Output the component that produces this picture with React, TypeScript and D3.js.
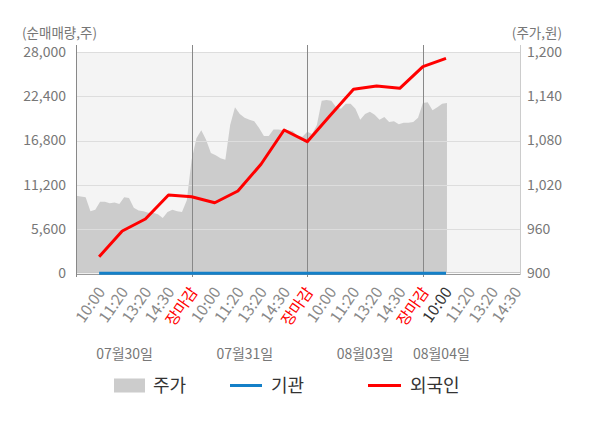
import { useRef, useEffect } from 'react';
import * as d3 from 'd3';

const timeLabels = [
  '10:00', '11:20', '13:20', '14:30', '장마감',
  '10:00', '11:20', '13:20', '14:30', '장마감',
  '10:00', '11:20', '13:20', '14:30', '장마감',
  '10:00', '11:20', '13:20', '14:30',
];
const dayLabels = ['07월30일', '07월31일', '08월03일', '08월04일'];
const dayLabelSlots = [2.1, 7.3, 12.5, 15.8];

const leftTicks = [0, 5600, 11200, 16800, 22400, 28000];
const rightTicks = [900, 960, 1020, 1080, 1140, 1200];

// 외국인 / 기관 net volume per time point
const foreignNet = [2100, 5350, 6870, 9900, 9690, 8930, 10410, 13800, 18130, 16650, 20000, 23280, 23690, 23400, 26140, 27200];
const institutionNet = [0, 0, 0, 0, 0, 0, 0, 0, 0, 0, 0, 0, 0, 0, 0, 0];

// intraday price samples (24 per day)
const priceDay1 = [1005, 1004, 1003, 984, 986, 997, 997, 995, 996, 994, 1003, 1002, 989, 985, 984, 982, 982, 980, 975, 983, 986, 984, 983, 999];
const priceDay2 = [1054, 1083, 1094, 1081, 1063, 1060, 1056, 1054, 1101, 1125, 1116, 1111, 1108, 1106, 1097, 1086, 1086, 1095, 1095, 1094, 1094, 1093, 1086, 1085];
const priceDay3 = [1092, 1089, 1101, 1134, 1135, 1134, 1125, 1123, 1130, 1130, 1123, 1108, 1116, 1119, 1115, 1108, 1112, 1105, 1106, 1102, 1104, 1104, 1105, 1111];
const priceDay4 = [1131, 1132, 1121, 1125, 1130, 1131];

const W = 600;
const H = 428;
const FONT = '"Noto Sans CJK KR", "Noto Sans", sans-serif';

export default function App() {
  const svgRef = useRef<SVGSVGElement>(null);

  useEffect(() => {
    if (!svgRef.current) return;
    const svg = d3.select(svgRef.current);
    svg.selectAll('*').remove();

    const left = 76, right = 520, top = 52, bottom = 273.3;

    const x = d3.scaleLinear().domain([0, 19.2]).range([left, right]);
    const yL = d3.scaleLinear().domain([0, 28000]).range([bottom, top]);
    const yR = d3.scaleLinear().domain([900, 1200]).range([bottom, top]);

    svg.append('rect')
      .attr('x', left).attr('y', top)
      .attr('width', right - left).attr('height', bottom - top)
      .attr('fill', '#f4f4f4');

    // price area
    const days = [priceDay1, priceDay2, priceDay3, priceDay4];
    const pricePts: [number, number][] = [];
    days.forEach((arr, d) => {
      arr.forEach((p, k) => pricePts.push([d * 5 + (k * 5) / 24, p]));
    });
    const area = d3.area<[number, number]>()
      .x(d => x(d[0]))
      .y0(bottom)
      .y1(d => yR(d[1]));
    svg.append('path').attr('d', area(pricePts) as string).attr('fill', '#cccccc');

    // gridlines
    svg.append('g').selectAll('line').data(leftTicks.slice(1)).join('line')
      .attr('x1', left).attr('x2', right)
      .attr('y1', d => Math.round(yL(d)) + 0.5).attr('y2', d => Math.round(yL(d)) + 0.5)
      .attr('stroke', '#dddddd');
    svg.append('line')
      .attr('x1', left).attr('x2', right).attr('y1', 272.5).attr('y2', 272.5)
      .attr('stroke', '#c8c8c8');
    svg.append('line')
      .attr('x1', left).attr('x2', right).attr('y1', 274.5).attr('y2', 274.5)
      .attr('stroke', '#999');

    // day separators + left axis
    const seps = [0, 5, 10, 15];
    svg.append('g').selectAll('line').data(seps).join('line')
      .attr('x1', d => Math.round(x(d)) + 0.5).attr('x2', d => Math.round(x(d)) + 0.5)
      .attr('y1', 45).attr('y2', 277)
      .attr('stroke', '#888');
    svg.append('line')
      .attr('x1', right + 0.5).attr('x2', right + 0.5).attr('y1', 45).attr('y2', 275)
      .attr('stroke', '#cccccc');

    // series lines
    const line = d3.line<number>()
      .x((_, i) => x(i + 1))
      .y(d => yL(d));
    svg.append('path').attr('d', line(institutionNet) as string)
      .attr('fill', 'none').attr('stroke', '#1480c8').attr('stroke-width', 3);
    svg.append('path').attr('d', line(foreignNet) as string)
      .attr('fill', 'none').attr('stroke', '#ff0000').attr('stroke-width', 3)
      .attr('stroke-linejoin', 'round');

    // axis labels
    const txt = svg.append('g').attr('font-family', FONT);
    txt.selectAll('.lt').data(leftTicks).join('text')
      .attr('x', 66).attr('y', d => yL(d))
      .attr('dy', '0.35em').attr('text-anchor', 'end')
      .attr('font-size', 14).attr('fill', '#777')
      .text(d => d3.format(',')(d));
    txt.selectAll('.rt').data(rightTicks).join('text')
      .attr('x', 527).attr('y', d => yR(d))
      .attr('dy', '0.35em').attr('text-anchor', 'start')
      .attr('font-size', 14).attr('fill', '#777')
      .text(d => d3.format(',')(d));
    txt.append('text').attr('x', 22).attr('y', 33).attr('dy', '0.35em')
      .attr('font-size', 13.5).attr('fill', '#777').text('(순매매량,주)');
    txt.append('text').attr('x', 562).attr('y', 33).attr('dy', '0.35em')
      .attr('text-anchor', 'end')
      .attr('font-size', 13.5).attr('fill', '#777').text('(주가,원)');

    txt.selectAll('.xt').data(timeLabels).join('text')
      .attr('transform', (_, i) => `translate(${x(i + 1) + 1},288) rotate(-55)`)
      .attr('text-anchor', 'end').attr('dominant-baseline', 'central')
      .attr('font-size', 15.5)
      .attr('fill', (d, i) => d === '장마감' ? '#ff0000' : i === 15 ? '#333' : '#888')
      .text(d => d);

    txt.selectAll('.dl').data(dayLabels).join('text')
      .attr('x', (_, i) => x(dayLabelSlots[i])).attr('y', 354)
      .attr('dy', '0.35em').attr('text-anchor', 'middle')
      .attr('font-size', 14).attr('fill', '#777')
      .text(d => d);

    // legend
    const lg = svg.append('g').attr('font-family', FONT);
    const ly = 385.5;
    lg.append('rect').attr('x', 114).attr('y', ly - 7).attr('width', 31).attr('height', 14).attr('fill', '#cccccc');
    lg.append('text').attr('x', 153).attr('y', ly).attr('dy', '0.35em')
      .attr('font-size', 18).attr('fill', '#333').text('주가');
    lg.append('line').attr('x1', 230).attr('x2', 262).attr('y1', ly).attr('y2', ly)
      .attr('stroke', '#1480c8').attr('stroke-width', 3);
    lg.append('text').attr('x', 271).attr('y', ly).attr('dy', '0.35em')
      .attr('font-size', 18).attr('fill', '#333').text('기관');
    lg.append('line').attr('x1', 368).attr('x2', 401).attr('y1', ly).attr('y2', ly)
      .attr('stroke', '#ff0000').attr('stroke-width', 3);
    lg.append('text').attr('x', 410).attr('y', ly).attr('dy', '0.35em')
      .attr('font-size', 18).attr('fill', '#333').text('외국인');
  }, []);

  return (
    <svg
      ref={svgRef}
      width={W}
      height={H}
      style={{ position: 'absolute', left: 0, top: 0, background: '#fff' }}
    />
  );
}
